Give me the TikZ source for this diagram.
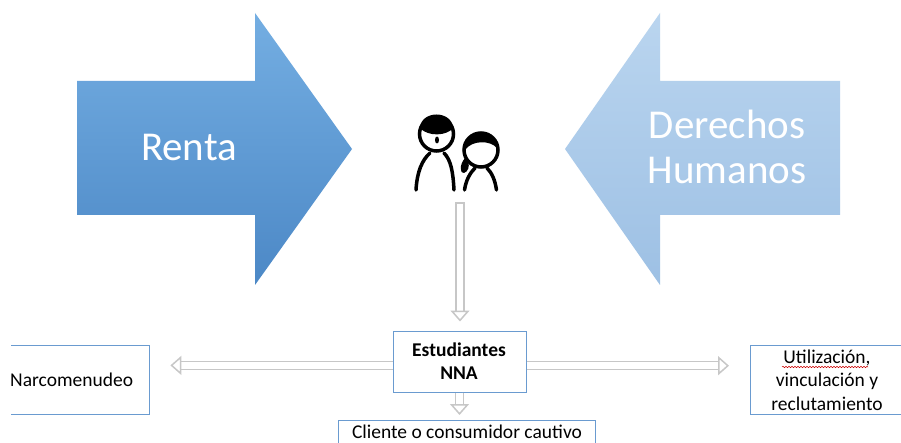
\documentclass[tikz,border=0pt]{standalone}
\usepackage{fontspec}
\setmainfont{Carlito}
\usetikzlibrary{arrows.meta, positioning, calc, decorations.pathmorphing}
\definecolor{boxblue}{HTML}{6A9BD0}
\definecolor{rentatop}{HTML}{74AEE2}
\definecolor{rentabot}{HTML}{4C88C6}
\definecolor{derechostop}{HTML}{BAD5EF}
\definecolor{derechosbot}{HTML}{9DC0E4}
\tikzstyle{biglabel} = [text=white, font=\fontsize{41}{45}\selectfont, align=center]
\tikzstyle{box} = [rectangle, draw=boxblue, line width=1pt, fill=white, align=center]
\tikzstyle{boxtext} = [align=center, font=\fontsize{19.5}{23.5}\selectfont, inner sep=0pt]
\tikzstyle{line} = [draw=black!22, line width=1.5pt, double=white, double distance=6.5pt,
  -{Triangle[open, fill=white, length=11pt, width=19pt]}]
\tikzstyle{kid} = [line width=3.5pt, line cap=round]
\begin{document}
\begin{tikzpicture}[x=1pt, y=-1pt]
    \path [use as bounding box, clip] (0,0) rectangle (901,443);
    \fill [white] (0,0) rectangle (901,443);

    \shade [top color=rentatop, bottom color=rentabot] (77,81) -- (255,81) -- (255,13) -- (352,149) -- (255,285) -- (255,215) -- (77,215) -- cycle;
    \shade [top color=derechostop, bottom color=derechosbot] (840,81) -- (660,81) -- (660,13) -- (565,149) -- (660,285) -- (660,215) -- (840,215) -- cycle;
    \node [biglabel] (rentatext) at (189,147) {Renta};
    \node [biglabel] (derechostext) at (727,147) {Derechos\\Humanos};

    % boy
    \draw [kid] (436.5,134) circle (17);
    \fill (420,128) .. controls (421,110) and (452,110) .. (453,128) .. controls (447,136) and (428,137) .. (420,128);
    \fill (437,140) ellipse (2 and 3.5);
    \draw [kid] (416,190) .. controls (417,172) and (422,160) .. (430,153);
    \draw [kid] (454,190) .. controls (453,172) and (451,160) .. (444,153);

    % girl
    \draw [kid] (481,150) circle (17);
    \fill (465,150) .. controls (464,127) and (498,127) .. (497,148) .. controls (490,140) and (472,140) .. (465,150);
    \fill (465,158) .. controls (459,165) and (460,174) .. (464,173) .. controls (468,172) and (470,166) .. (468,162);
    \draw [kid] (464.5,190) .. controls (466,180) and (470,173) .. (475,168);
    \draw [kid] (496.5,190) .. controls (495,180) and (492,173) .. (487,168);

    \coordinate (kids) at (460,203);

    \node [box, minimum width=133pt, minimum height=61pt] (estudiantes) at (459.5,361.5) {};
    \node [boxtext, font=\fontsize{19.5}{19.5}\selectfont\bfseries] (estudiantestext) at (459,350) {Estudiantes};
    \node [boxtext, font=\fontsize{19.5}{19.5}\selectfont\bfseries] (nnatext) at (459,373) {NNA};
    \node [box, minimum width=257pt, minimum height=40pt, anchor=north west] (cliente) at (338,420) {};
    \node [boxtext] (clientetext) at (467,432) {Cliente o consumidor cautivo};
    \node [minimum width=138pt, minimum height=69pt, inner sep=0pt, anchor=north west] (narco) at (11,345) {};
    \node [boxtext, right=0pt of narco.west, xshift=-1pt] (narcotext) {Narcomenudeo};
    \node [box, minimum width=180pt, minimum height=69pt, anchor=north west] (utilizacion) at (750,345) {};
    \node [boxtext] (utiltext) at (827,380) {Utilización,\\vinculación y\\reclutamiento};

    \draw [boxblue, line width=1pt] (narco.north west) -- (narco.north east) -- (narco.south east) -- (narco.south west);
    \draw [red!80!black, line width=0.5pt, decorate, decoration={snake, amplitude=0.7pt, segment length=3pt}] (782,367) -- (868,367);

    \coordinate (narcoin) at ($(narco.east)+(21,-14.3)$);
    \coordinate (utilin) at ($(utilizacion.west)+(-21,-14.3)$);
    \path [line] (kids) -- ($(estudiantes.north)+(0.5,-9)$);
    \draw [black!22, line width=1.5pt] ($(kids)+(-4.7,0)$) -- ($(kids)+(4.7,0)$);
    \path [line] (estudiantes.south) -- ($(cliente.north)+(-7.5,-5)$);
    \path [line] (estudiantes.west |- narcoin) -- (narcoin);
    \path [line] (estudiantes.east |- utilin) -- (utilin);
\end{tikzpicture}
\end{document}
